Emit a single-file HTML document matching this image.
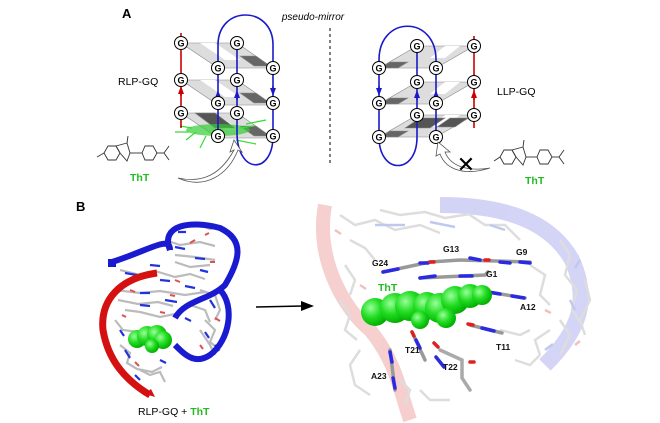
<!DOCTYPE html>
<html><head><style>
body{margin:0;background:#fff;}
svg{display:block;font-family:"Liberation Sans",sans-serif;}
</style></head><body>
<svg width="660" height="423" viewBox="0 0 660 423" xmlns="http://www.w3.org/2000/svg">
<defs>
<marker id="ar" markerUnits="userSpaceOnUse" markerWidth="8" markerHeight="8" refX="4" refY="4" orient="auto"><path d="M0,1 L8,4 L0,7 z" fill="#c00"/></marker>
<marker id="ab" markerUnits="userSpaceOnUse" markerWidth="8" markerHeight="8" refX="4" refY="4" orient="auto"><path d="M0,1 L8,4 L0,7 z" fill="#1a1ac8"/></marker>
<radialGradient id="gs" cx="0.35" cy="0.35" r="0.7"><stop offset="0" stop-color="#9f9"/><stop offset="0.5" stop-color="#2d2"/><stop offset="1" stop-color="#0a0"/></radialGradient>
<g id="G"><circle r="6.5" fill="#fff" stroke="#000" stroke-width="1"/><text y="3.5" text-anchor="middle" font-size="9" font-weight="bold">G</text></g>
</defs>
<text x="122" y="18" font-size="13" font-weight="bold">A</text>
<text x="313" y="20" font-size="10" font-style="italic" text-anchor="middle">pseudo-mirror</text>
<line x1="330" y1="28" x2="330" y2="165" stroke="#000" stroke-dasharray="3,3"/>

<g stroke="#888" stroke-width="0.6">
<g id="layL">
<polygon points="181,43 237,43 273,68 218,68" fill="#ddd"/>
<polygon points="200,43 215,43 240,60 225,60" fill="#fff" stroke="none"/>
<polygon points="240,56 256,56 270,66 254,66" fill="#666"/>
</g>
<use href="#layL" y="37"/>
<use href="#layL" y="70"/>
<polygon points="195,113 215,113 235,128 215,128" fill="#555"/>
</g>
<ellipse cx="218" cy="130" rx="32" ry="6" fill="#3c3" opacity="0.7"/>
<g stroke="#3d3" stroke-width="1.2" fill="none">
<path d="M180,126 l12,2 M186,140 l10,-8 M200,148 l6,-12 M240,128 l14,-2 M236,140 l20,4 M246,124 l20,-4 M175,132 l14,0"/>
</g>
<line x1="181" y1="33" x2="181" y2="128" stroke="#c00" stroke-width="1.6"/>
<line x1="181" y1="96" x2="181" y2="90" stroke="#c00" stroke-width="1.6" marker-end="url(#ar)"/>
<g fill="none" stroke="#1a1ac8" stroke-width="1.6">
<path d="M218,136 L218,45 C218,5 273,5 273,45 L273,136"/>
<path d="M237,43 L237,132 C237,175 273,175 273,136"/>
</g>
<path d="M218,100 v-6" stroke="#1a1ac8" stroke-width="1.6" marker-end="url(#ab)"/>
<path d="M237,100 v-6" stroke="#1a1ac8" stroke-width="1.6" marker-end="url(#ab)"/>
<path d="M273,86 v6" stroke="#1a1ac8" stroke-width="1.6" marker-end="url(#ab)"/>
<use href="#G" x="181" y="43"/><use href="#G" x="237" y="43"/>
<use href="#G" x="181" y="80"/><use href="#G" x="237" y="80"/>
<use href="#G" x="181" y="113"/><use href="#G" x="237" y="113"/>
<use href="#G" x="218" y="68"/><use href="#G" x="273" y="68"/>
<use href="#G" x="218" y="103"/><use href="#G" x="273" y="103"/>
<use href="#G" x="218" y="136"/><use href="#G" x="273" y="136"/>
<text x="118" y="85" font-size="10.5">RLP-GQ</text>
<g fill="none" stroke="#333" stroke-width="0.9">
<polygon points="108,146 116,146 120,153 116,160 108,160 104,153"/>
<polygon points="120,153 116,146 127,143 130,153 127,161"/>
<line x1="104" y1="153" x2="97" y2="157"/><line x1="127" y1="143" x2="128" y2="136"/>
<line x1="130" y1="153" x2="142" y2="153"/>
<polygon points="145,146 153,146 157,153 153,160 145,160 142,153"/>
<line x1="157" y1="153" x2="164" y2="153"/><line x1="164" y1="153" x2="169" y2="146"/><line x1="164" y1="153" x2="169" y2="160"/>
</g>
<text x="130" y="181" font-size="10.5" font-weight="bold" fill="#2b2">ThT</text>
<path d="M178,178 C205,190 228,175 238,150 L242,152 L234,140 L230,152 L234,150 C222,172 205,184 178,178 z" fill="#fff" stroke="#555" stroke-width="0.8"/>

<g stroke="#888" stroke-width="0.6">
<g id="layR">
<polygon points="417,46 474,46 436,68 379,68" fill="#ddd"/>
<polygon points="445,46 460,46 445,58 430,58" fill="#fff" stroke="none"/>
<polygon points="390,62 408,62 398,68 380,68" fill="#666"/>
</g>
<use href="#layR" y="36"/>
<use href="#layR" y="69"/>
<polygon points="420,118 445,118 430,128 405,128" fill="#555"/>
<polygon points="450,118 468,118 455,127 437,127" fill="#555"/>
</g>
<line x1="474" y1="36" x2="474" y2="128" stroke="#c00" stroke-width="1.6"/>
<line x1="474" y1="100" x2="474" y2="94" stroke="#c00" stroke-width="1.6" marker-end="url(#ar)"/>
<g fill="none" stroke="#1a1ac8" stroke-width="1.6">
<path d="M379,137 L379,60 C379,15 436,15 436,60 L436,137"/>
<path d="M417,46 L417,137 C417,175 379,175 379,137"/>
</g>
<path d="M379,86 v6" stroke="#1a1ac8" stroke-width="1.6" marker-end="url(#ab)"/>
<path d="M417,100 v-6" stroke="#1a1ac8" stroke-width="1.6" marker-end="url(#ab)"/>
<path d="M436,100 v-6" stroke="#1a1ac8" stroke-width="1.6" marker-end="url(#ab)"/>
<use href="#G" x="417" y="46"/><use href="#G" x="474" y="46"/>
<use href="#G" x="417" y="82"/><use href="#G" x="474" y="82"/>
<use href="#G" x="417" y="115"/><use href="#G" x="474" y="115"/>
<use href="#G" x="379" y="68"/><use href="#G" x="436" y="68"/>
<use href="#G" x="379" y="103"/><use href="#G" x="436" y="103"/>
<use href="#G" x="379" y="137"/><use href="#G" x="436" y="137"/>
<text x="497" y="95" font-size="10.5">LLP-GQ</text>
<path d="M490,168 C465,172 450,165 445,152 L450,152 L438,142 L436,156 L440,154 C446,170 465,176 490,168 z" fill="#fff" stroke="#555" stroke-width="0.8"/>
<text x="466" y="172" font-size="22" text-anchor="middle">✕</text>
<g fill="none" stroke="#333" stroke-width="0.9">
<polygon points="504,150 512,150 516,157 512,164 504,164 500,157"/>
<polygon points="516,157 512,150 523,147 526,157 523,165"/>
<line x1="500" y1="157" x2="494" y2="161"/><line x1="523" y1="147" x2="524" y2="140"/>
<line x1="526" y1="157" x2="537" y2="157"/>
<polygon points="540,150 548,150 552,157 548,164 540,164 537,157"/>
<line x1="552" y1="157" x2="559" y2="157"/><line x1="559" y1="157" x2="564" y2="150"/><line x1="559" y1="157" x2="564" y2="164"/>
</g>
<text x="525" y="184" font-size="10.5" font-weight="bold" fill="#2b2">ThT</text>

<!-- Panel B -->
<text x="76" y="211" font-size="13" font-weight="bold">B</text>
<g stroke="#bbb" stroke-width="2.2" fill="none">
<path d="M120,270 l20,5 l15,-4 l20,6 l15,-3 l15,5 M115,290 l25,3 l20,-2 l25,4 l20,-3 M118,300 l20,4 l20,-2 l15,4 M165,240 l15,5 l20,-3 l15,4 M175,255 l20,2 l20,3 M205,320 l10,10 l-5,12 l10,8 M120,345 l10,8 l-3,10 l10,6 l15,3 l10,-5 M200,290 l15,5 l5,15 l-5,10 M125,310 l15,2 l20,5 l15,-3 M180,225 l15,-2 l15,6 l12,-2 M200,330 l10,15 l5,10 M115,320 l8,10 l15,2 M140,370 l10,5 l10,-3 l5,10 M175,262 l15,5 l20,-2 M190,305 l15,5 l5,12"/>
</g>
<g stroke="#2233dd" stroke-width="2.2" fill="none">
<path d="M125,273 l12,2 M160,280 l10,1 M185,286 l10,2 M140,293 l10,0 M175,247 l10,2 M195,258 l10,1 M210,300 l5,8 M125,350 l5,8 M160,360 l6,3 M205,332 l4,6 M140,305 l10,1 M165,300 l12,2 M150,265 l10,1 M200,270 l8,2 M120,330 l4,6 M135,375 l5,5 M215,345 l4,6 M185,318 l6,3 M178,232 l8,0"/>
</g>
<g stroke="#e05050" stroke-width="2" fill="none">
<path d="M150,272 l6,0 M175,280 l5,2 M130,290 l5,2 M190,243 l5,-3 M210,262 l5,0 M215,318 l5,3 M135,362 l4,4 M195,300 l5,0 M205,235 l4,-2 M170,295 l5,1 M122,315 l4,2 M200,345 l3,4 M183,228 l4,-2 M160,312 l5,1"/>
</g>
<path d="M157,273 C120,278 100,300 103,330 C108,360 125,380 150,395" fill="none" stroke="#d41010" stroke-width="7"/>
<path d="M145,394 l10,3 l-4,-8 z" fill="#d41010"/>
<path d="M112,262 C150,250 170,235 170,250 M170,250 C160,225 190,220 220,228 C245,240 240,260 225,285 C210,300 185,300 175,318 M220,290 C235,305 230,340 210,355 C195,365 185,355 175,345" fill="none" stroke="#1a1ad0" stroke-width="6"/>
<rect x="108" y="259" width="8" height="8" fill="#1a1ad0"/>
<g fill="url(#gs)">
<circle cx="137" cy="339" r="9"/><circle cx="147" cy="336" r="10"/><circle cx="157" cy="335" r="10"/><circle cx="163" cy="340" r="9"/><circle cx="152" cy="346" r="7"/>
</g>
<text x="138" y="415" font-size="10.5">RLP-GQ + <tspan fill="#2b2" font-weight="bold">ThT</tspan></text>
<line x1="256" y1="307" x2="303" y2="306" stroke="#000" stroke-width="1.5"/>
<path d="M301,301 L314,306 L301,311 z" fill="#000"/>

<g opacity="0.2">
<path d="M325,205 C315,260 345,310 370,330 C395,360 400,390 410,420" fill="none" stroke="#d41010" stroke-width="14"/>
<path d="M440,205 C520,205 555,230 572,260 C590,300 580,330 545,365" fill="none" stroke="#2a2ad0" stroke-width="16"/>
</g>
<g stroke="#ddd" stroke-width="2.5" fill="none">
<path d="M340,215 l15,10 l20,-5 l20,10 l25,-5 l20,8 M350,240 l15,8 l10,12 M560,240 l10,15 l-5,20 l12,15 l-5,20 l10,15 M530,265 l15,10 l-5,20 l10,10 M340,300 l10,15 l-5,15 l12,10 M400,380 l10,10 l-5,15 M550,330 l-15,10 l5,15 M500,330 l20,5 l10,-5 M585,280 l5,20 l-10,20 l5,15 M380,210 l20,5 l25,-3 l20,6 l25,-4 M470,215 l15,10 l20,0 l15,15 M345,265 l10,15 l-5,15 M515,360 l15,5 l10,-10 M420,390 l10,10 l20,0 M360,350 l-10,15 l5,20 l15,10 M560,320 l10,15 l-10,20"/>
</g>
<g stroke="#c0c8f0" stroke-width="2.5" fill="none"><path d="M375,225 l30,0 M430,222 l25,5 M570,300 l5,10 M580,260 l-5,8 M490,225 l15,5 M545,350 l8,-6"/></g>
<g stroke="#f0c0c0" stroke-width="2.5" fill="none"><path d="M335,230 l6,4 M360,285 l6,4 M545,310 l6,3 M575,345 l5,-4"/></g>
<g stroke-width="3.5" fill="none" stroke-linecap="round">
<path d="M383,272 L430,262 L460,260 L530,262" stroke="#999"/>
<path d="M383,272 l15,-3 M420,263 l8,0 M470,258 l10,2 M500,262 l10,1 M520,262 l10,1" stroke="#2a2ae0"/>
<path d="M430,262 l4,0 M485,260 l4,0" stroke="#e02020"/>
<path d="M420,278 L485,275 L488,272" stroke="#999"/>
<path d="M420,278 l15,-2 M460,276 l12,0" stroke="#2a2ae0"/>
<path d="M488,292 L525,298" stroke="#999"/>
<path d="M488,292 l12,2 M512,296 l12,2" stroke="#2a2ae0"/>
<path d="M470,325 L502,333" stroke="#999"/><path d="M468,324 l5,1" stroke="#e02020"/><path d="M482,328 l12,3" stroke="#2a2ae0"/>
<path d="M412,332 L425,360" stroke="#999"/><path d="M416,340 l4,8" stroke="#2a2ae0"/><path d="M412,332 l2,4" stroke="#e02020"/>
<path d="M440,350 L462,360 L462,378 L470,390" stroke="#aaa"/><path d="M436,357 l8,10" stroke="#2a2ae0"/><path d="M434,343 l4,4 M470,362 l4,0" stroke="#e02020"/>
<path d="M390,350 L395,390" stroke="#999"/><path d="M390,352 l2,10 M393,378 l2,10" stroke="#2a2ae0"/>
</g>
<g fill="url(#gs)">
<circle cx="375" cy="312" r="14"/><circle cx="395" cy="308" r="15"/><circle cx="410" cy="306" r="15"/>
<circle cx="427" cy="306" r="14"/><circle cx="440" cy="308" r="15"/><circle cx="455" cy="300" r="14"/>
<circle cx="470" cy="296" r="12"/><circle cx="482" cy="295" r="10"/><circle cx="446" cy="318" r="10"/><circle cx="420" cy="320" r="9"/>
</g>
<g font-size="8.5" font-weight="bold" fill="#111">
<text x="372" y="266">G24</text><text x="443" y="252">G13</text><text x="516" y="255">G9</text><text x="486" y="277">G1</text>
<text x="520" y="310">A12</text><text x="496" y="350">T11</text><text x="405" y="353">T21</text><text x="443" y="370">T22</text><text x="371" y="379">A23</text>
</g>
<text x="378" y="291" font-size="10.5" font-weight="bold" fill="#2b2">ThT</text>
</svg>
</body></html>
